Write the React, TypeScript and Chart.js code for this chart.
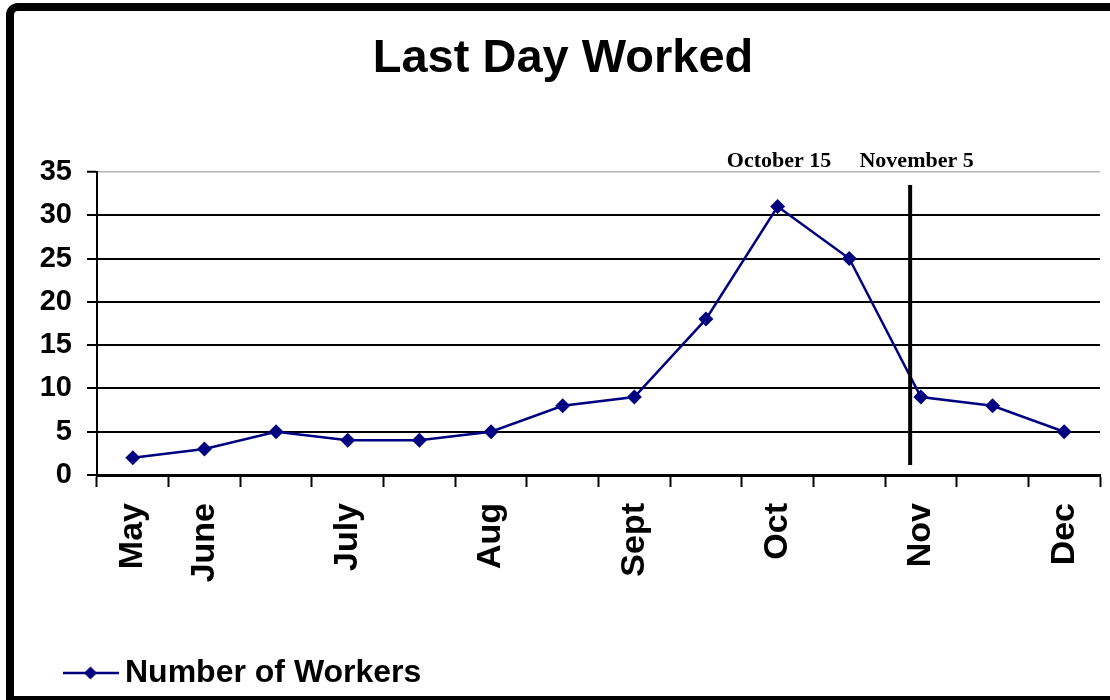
import React, { useEffect, useRef } from "react";
import { Chart, registerables } from "chart.js";

Chart.register(...registerables);

const categories = ["May", "June", "", "July", "", "Aug", "", "Sept", "", "Oct", "", "Nov", "", "Dec"];
const workers = [2, 3, 5, 4, 4, 5, 8, 9, 18, 31, 25, 9, 8, 5];
const yTicks = [0, 5, 10, 15, 20, 25, 30, 35];
const seriesName = "Number of Workers";
const chartTitle = "Last Day Worked";
// annotations: [label, category position]
const annotationLabels: [string, number][] = [
  ["October 15", 9.02],
  ["November 5", 10.94],
];
// vertical marker line: category position and y-range
const markerPos = 10.85;
const markerRange = [1.15, 33.5];

const NAVY = "#000080";

function makeLegendImage() {
  const c = document.createElement("canvas");
  c.width = 56;
  c.height = 18;
  const ctx = c.getContext("2d")!;
  ctx.strokeStyle = NAVY;
  ctx.lineWidth = 2.5;
  ctx.beginPath();
  ctx.moveTo(0, 9);
  ctx.lineTo(56, 9);
  ctx.stroke();
  ctx.fillStyle = NAVY;
  ctx.beginPath();
  ctx.moveTo(28, 2.5);
  ctx.lineTo(34.5, 9);
  ctx.lineTo(28, 15.5);
  ctx.lineTo(21.5, 9);
  ctx.closePath();
  ctx.fill();
  return c;
}

const overlayPlugin = {
  id: "overlay",
  afterDraw(chart: any) {
    const { ctx, chartArea } = chart;
    const xs = chart.scales.x;
    const ys = chart.scales.y;
    ctx.save();
    // vertical marker
    ctx.strokeStyle = "#000";
    ctx.lineWidth = 4;
    ctx.beginPath();
    const mx = xs.getPixelForValue(markerPos);
    ctx.moveTo(mx, ys.getPixelForValue(markerRange[1]));
    ctx.lineTo(mx, ys.getPixelForValue(markerRange[0]));
    ctx.stroke();
    // annotations
    ctx.fillStyle = "#000";
    ctx.font = 'bold 22px "Liberation Serif", serif';
    ctx.textAlign = "center";
    ctx.textBaseline = "middle";
    for (const [label, pos] of annotationLabels) {
      ctx.fillText(label, xs.getPixelForValue(pos), chartArea.top - 11);
    }
    ctx.restore();
  },
};

export default function App() {
  const ref = useRef<HTMLCanvasElement>(null);
  useEffect(() => {
    if (!ref.current) return;
    Chart.defaults.color = "#000";
    Chart.defaults.font.family = '"Liberation Sans", Arial, sans-serif';
    const legendImg = makeLegendImage();
    const chart = new Chart(ref.current, {
      type: "line",
      data: {
        labels: categories,
        datasets: [
          {
            label: seriesName,
            data: workers,
            borderColor: NAVY,
            backgroundColor: NAVY,
            borderWidth: 2.5,
            pointStyle: "rectRot",
            pointRadius: 7.5,
            pointBackgroundColor: NAVY,
            pointBorderColor: NAVY,
            pointBorderWidth: 0,
            tension: 0,
          },
        ],
      },
      options: {
        animation: false,
        responsive: false,
        maintainAspectRatio: false,
        layout: { padding: { left: 26, right: 10, top: 0, bottom: 1 } },
        plugins: {
          title: {
            display: true,
            text: chartTitle,
            color: "#000",
            font: { size: 47, weight: "bold" },
            padding: { top: 31, bottom: 84.5 },
          },
          legend: {
            display: true,
            position: "bottom",
            align: "start",
            labels: {
              usePointStyle: true,
              pointStyleWidth: 37,
              padding: 46,
              color: "#000",
              font: { size: 32, weight: "bold" },
              generateLabels: () => [
                {
                  text: seriesName,
                  pointStyle: legendImg as any,
                  fillStyle: NAVY,
                  strokeStyle: NAVY,
                  lineWidth: 1,
                  hidden: false,
                  datasetIndex: 0,
                } as any,
              ],
            },
          },
          tooltip: { enabled: false },
        },
        scales: {
          x: {
            type: "category",
            offset: true,
            grid: {
              display: true,
              offset: true,
              drawOnChartArea: false,
              drawTicks: true,
              tickLength: 12,
              tickColor: "#000",
              tickWidth: 2,
              color: "#000",
            },
            border: { display: true, color: "#000", width: 3 },
            ticks: {
              autoSkip: false,
              minRotation: 90,
              maxRotation: 90,
              padding: 16,
              color: "#000",
              font: { size: 34, weight: "bold" },
            },
            afterFit: (s: any) => {
              s.height = 136;
              s.paddingLeft = 0;
              s.paddingRight = 0;
            },
          },
          y: {
            min: 0,
            max: 35,
            afterBuildTicks: (s: any) => {
              s.ticks = yTicks.map((v) => ({ value: v }));
            },
            grid: {
              color: (c: any) => (c.tick && c.tick.value === 35 ? "#b4b4b4" : "#000"),
              lineWidth: (c: any) => (c.tick && c.tick.value === 35 ? 1.5 : 2),
              tickColor: "#000",
              tickWidth: 2,
              tickLength: 10,
              drawTicks: true,
            },
            border: { display: true, color: "#000", width: 2 },
            ticks: {
              padding: 15,
              color: "#000",
              font: { size: 29, weight: "bold" },
            },
            afterFit: (s: any) => {
              s.width = 71;
            },
          },
        },
      },
      plugins: [overlayPlugin],
    });
    return () => chart.destroy();
  }, []);

  return (
    <div
      style={{
        position: "fixed",
        left: 0,
        top: 0,
        width: 1110,
        height: 700,
        overflow: "hidden",
        background: "#fff",
      }}
    >
      <div
        style={{
          position: "absolute",
          left: 6,
          top: 3,
          width: 1110,
          height: 685,
          border: "8px solid #000",
          borderTopLeftRadius: 12,
        }}
      />
      <canvas
        ref={ref}
        width={1110}
        height={700}
        style={{ position: "absolute", left: 0, top: 0, width: 1110, height: 700 }}
      />
    </div>
  );
}
